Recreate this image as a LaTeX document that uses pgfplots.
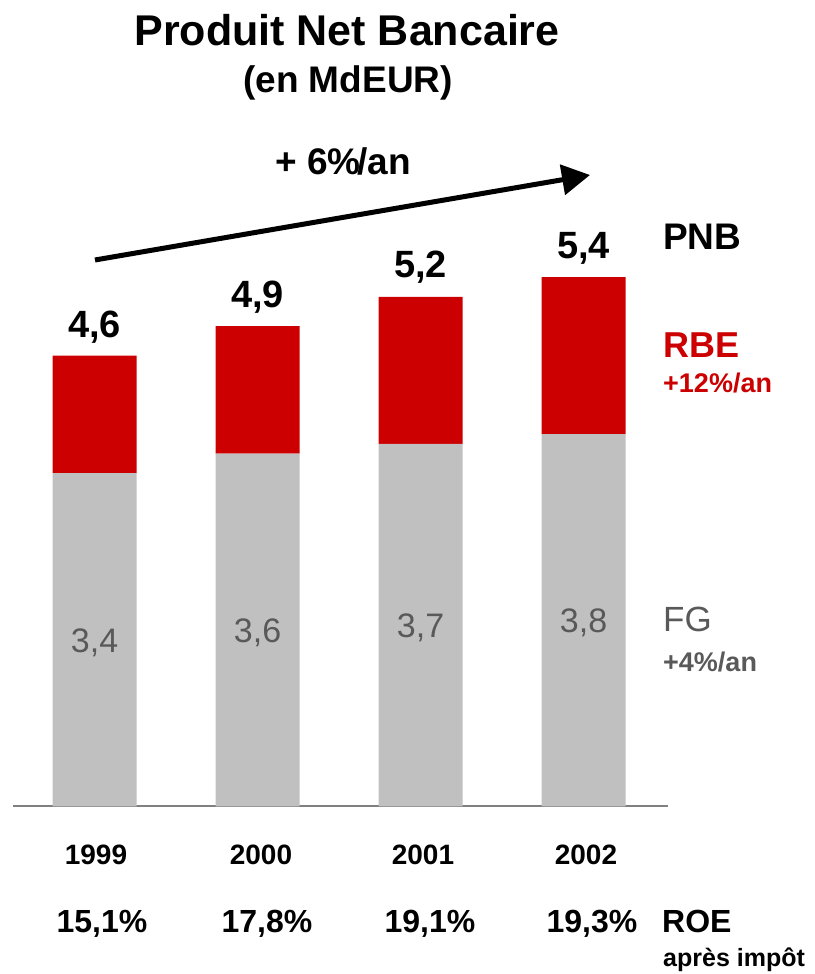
\documentclass[border=0pt]{standalone}
\usepackage{pgfplots}
\pgfplotsset{compat=1.18}
\usepackage{pgfplotstable}
\usepackage{fontspec}
\setmainfont{Liberation Sans}
\usetikzlibrary{arrows.meta}
\definecolor{cRED}{HTML}{CC0000}
\definecolor{cBAR}{HTML}{C0C0C0}
\definecolor{cTXT}{HTML}{595959}
\newcommand{\fs}[1]{\fontsize{#1}{#1}\selectfont}

% FG (frais generaux) and RBE, MdEUR
\pgfplotstableread{
x fg  rbe
0 3.4 1.2
1 3.6 1.3
2 3.7 1.5
3 3.8 1.6
}\pnb

\begin{document}
\begin{tikzpicture}[x=1pt,y=1pt]
\path[use as bounding box] (0,0) rectangle (814,974);
\begin{axis}[
  at={(8,974-803)}, anchor=south west,
  scale only axis, width=655.3pt, height=686pt,
  xmin=-0.5, xmax=3.52, ymin=0, ymax=7,
  ybar stacked, bar width=84pt,
  axis y line=none, axis x line=bottom,
  x axis line style={-, draw=gray, line width=2pt},
  xtick=\empty, ytick=\empty, clip=false]
\addplot[fill=cBAR, draw=none] table[x=x, y=fg] {\pnb};
\addplot[fill=cRED, draw=none] table[x=x, y=rbe] {\pnb};
% PNB totals above the bars
\node[anchor=base, inner sep=0pt, yshift=18pt, font=\fs{38}\bfseries] at (axis cs:0,4.6) {4,6};
\node[anchor=base, inner sep=0pt, yshift=19pt, font=\fs{38}\bfseries] at (axis cs:1,4.9) {4,9};
\node[anchor=base, inner sep=0pt, yshift=19pt, font=\fs{38}\bfseries] at (axis cs:2,5.2) {5,2};
\node[anchor=base, inner sep=0pt, yshift=19pt, font=\fs{38}\bfseries] at (axis cs:3,5.4) {5,4};
% where the FG values go (drawn after the axis, on top of the bars)
\coordinate (g0) at (axis cs:0,1.67);
\coordinate (g1) at (axis cs:1,1.77);
\coordinate (g2) at (axis cs:2,1.82);
\coordinate (g3) at (axis cs:3,1.87);
\end{axis}

\node[text=cTXT, font=\fs{34}] at (g0) {3,4};
\node[text=cTXT, font=\fs{34}] at (g1) {3,6};
\node[text=cTXT, font=\fs{34}] at (g2) {3,7};
\node[text=cTXT, font=\fs{34}] at (g3) {3,8};

\node[anchor=base, font=\fs{43}\bfseries] at (347,974-46) {Produit Net Bancaire};
\node[anchor=base, font=\fs{37}\bfseries] at (348,974-93) {(en MdEUR)};

% growth arrow
\draw[line width=5pt, -{Triangle[length=28pt,width=30pt]}] (95,974-260) -- (590,974-175);
\node[anchor=base west, inner sep=0pt, font=\fs{37}\bfseries] at (275,974-175) {+ 6\%\kern-0.08em/an};

% right-hand legend
\node[anchor=base west, inner sep=0pt, font=\fs{37}\bfseries] at (663,974-250) {PNB};
\node[anchor=base west, inner sep=0pt, text=cRED, font=\fs{36}\bfseries] at (663,974-358) {RBE};
\node[anchor=base west, inner sep=0pt, text=cRED, font=\fs{27}\bfseries] at (663,974-393) {+12\%/an};
\node[anchor=base west, inner sep=0pt, text=cTXT, font=\fs{35}] at (663,974-632) {FG};
\node[anchor=base west, inner sep=0pt, text=cTXT, font=\fs{27}\bfseries] at (663,974-672) {+4\%/an};

% years and ROE
\foreach \x/\y in {96/1999,261/2000,423/2001,586/2002}
  \node[anchor=base, inner sep=0pt, font=\fs{28}\bfseries] at (\x,974-865) {\y};
\foreach \x/\r in {102/{15,1\%},267/{17,8\%},430/{19,1\%},592/{19,3\%}}
  \node[anchor=base, inner sep=0pt, font=\fs{32}\bfseries] at (\x,974-933) {\r};
\node[anchor=base west, inner sep=0pt, font=\fs{32}\bfseries] at (662,974-933) {ROE};
\node[anchor=base west, inner sep=0pt, font=\fs{25}\bfseries] at (663,974-967) {après impôt};
\end{tikzpicture}
\end{document}
